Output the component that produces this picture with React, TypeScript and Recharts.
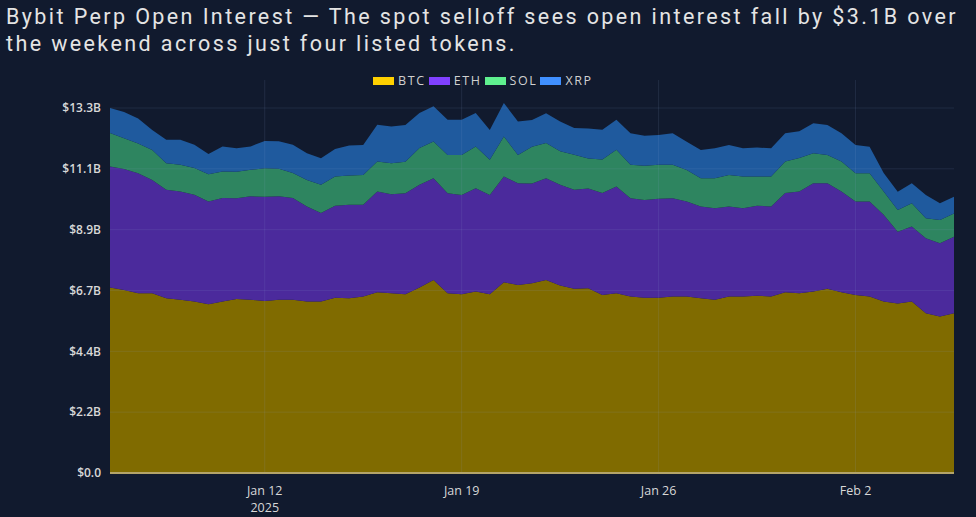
import React from 'react';
import { AreaChart, Area, XAxis, YAxis, ReferenceLine } from 'recharts';

// open interest in $B, 12h samples from Jan 6 12:00 UTC
const btc = [
  6.76, 6.67, 6.55, 6.55, 6.37, 6.31, 6.25, 6.15, 6.25, 6.34,
  6.31, 6.27, 6.31, 6.31, 6.25, 6.25, 6.39, 6.37, 6.43, 6.59,
  6.55, 6.51, 6.76, 7.03, 6.55, 6.51, 6.61, 6.51, 6.95, 6.85,
  6.91, 7.03, 6.83, 6.71, 6.73, 6.49, 6.55, 6.43, 6.39, 6.39,
  6.43, 6.43, 6.37, 6.31, 6.43, 6.43, 6.46, 6.43, 6.59, 6.55,
  6.61, 6.71, 6.59, 6.49, 6.43, 6.25, 6.18, 6.25, 5.82, 5.70,
  5.82,
];
const eth = [
  4.41, 4.41, 4.37, 4.13, 3.95, 3.95, 3.89, 3.74, 3.77, 3.67,
  3.77, 3.80, 3.77, 3.71, 3.46, 3.22, 3.35, 3.40, 3.34, 3.67,
  3.61, 3.68, 3.74, 3.71, 3.64, 3.62, 3.77, 3.62, 3.85, 3.71,
  3.64, 3.71, 3.67, 3.61, 3.64, 3.71, 3.89, 3.58, 3.56, 3.60,
  3.58, 3.46, 3.34, 3.34, 3.28, 3.22, 3.28, 3.28, 3.61, 3.71,
  3.95, 3.85, 3.67, 3.40, 3.46, 3.16, 2.61, 2.73, 2.73, 2.67,
  2.79,
];
const sol = [
  1.22, 1.12, 1.09, 1.09, 0.97, 0.97, 0.97, 1.00, 0.97, 0.97,
  0.97, 1.03, 1.01, 0.91, 0.97, 1.03, 1.06, 1.07, 1.09, 1.09,
  1.13, 1.15, 1.34, 1.34, 1.40, 1.46, 1.52, 1.28, 1.46, 1.03,
  1.34, 1.28, 1.22, 1.28, 1.09, 1.22, 1.34, 1.22, 1.25, 1.24,
  1.22, 1.15, 1.03, 1.09, 1.15, 1.15, 1.06, 1.09, 1.15, 1.22,
  1.09, 1.03, 1.09, 1.03, 1.03, 0.85, 0.79, 0.85, 0.73, 0.85,
  0.85,
];
const xrp = [
  0.91, 0.95, 0.91, 0.73, 0.85, 0.91, 0.85, 0.73, 0.91, 0.85,
  0.85, 1.00, 1.00, 1.03, 0.97, 0.97, 1.01, 1.09, 1.09, 1.34,
  1.34, 1.34, 1.28, 1.28, 1.28, 1.28, 1.22, 1.09, 1.22, 1.22,
  0.97, 1.09, 1.09, 0.97, 1.09, 1.09, 1.09, 1.15, 1.09, 1.09,
  1.15, 1.03, 1.03, 1.09, 1.09, 1.03, 1.06, 1.03, 1.03, 0.97,
  1.09, 1.09, 1.03, 1.03, 0.97, 0.67, 0.67, 0.73, 0.85, 0.61,
  0.61,
];

const START = Date.UTC(2025, 0, 6, 12);
const STEP = 12 * 3600 * 1000;
const xTicks = [Date.UTC(2025, 0, 12), Date.UTC(2025, 0, 19), Date.UTC(2025, 0, 26), Date.UTC(2025, 1, 2)];
const xTickLabels = ['Jan 12', 'Jan 19', 'Jan 26', 'Feb 2'];
const yTicks = [0, 2.2167, 4.4333, 6.65, 8.8667, 11.0833, 13.3];
const yTickLabels = ['$0.0', '$2.2B', '$4.4B', '$6.7B', '$8.9B', '$11.1B', '$13.3B'];

// legend swatch colour, and the muted fill seen on the dark background
const series = [
  { key: 'BTC', color: '#ffd000', fill: '#806b00' },
  { key: 'ETH', color: '#8040ff', fill: '#4b2a9c' },
  { key: 'SOL', color: '#5ff08f', fill: '#2e8560' },
  { key: 'XRP', color: '#4090ff', fill: '#1f5a9e' },
];

const data = btc.map((v, i) => ({
  t: START + i * STEP,
  BTC: v,
  ETH: eth[i],
  SOL: sol[i],
  XRP: xrp[i],
}));

const BG = '#111a2e';
const GRID = 'rgba(140,160,210,0.13)';

const XTick = ({ x, y, payload, index }: any) => (
  <g transform={`translate(${x},${y})`}>
    <text textAnchor="middle" y={14} fill="#d8d8d8" fontSize={12.5} fontFamily="Open Sans">
      {xTickLabels[xTicks.indexOf(payload.value)]}
    </text>
    {index === 0 && (
      <text textAnchor="middle" y={31} fill="#d8d8d8" fontSize={12.5} fontFamily="Open Sans">
        2025
      </text>
    )}
  </g>
);

const LegendRow = () => (
  <div style={{ position: 'absolute', left: 373, top: 72, display: 'flex', alignItems: 'center', fontFamily: 'Open Sans', fontSize: 12.5, color: '#d0d0d0', letterSpacing: 1.6 }}>
    {series.map(s => (
      <div key={s.key} style={{ display: 'flex', alignItems: 'center', marginRight: 3 }}>
        <div style={{ width: 21, height: 8, background: s.color, marginRight: 4 }} />
        <span>{s.key}</span>
      </div>
    ))}
  </div>
);

export default function App() {
  return (
    <div style={{ position: 'absolute', left: 0, top: 0, width: 976, height: 517, background: BG, overflow: 'hidden' }}>
      <div style={{ position: 'absolute', left: 6, top: 3, width: 968, fontFamily: 'Roboto', fontSize: 21.5, lineHeight: '27px', color: '#e4e4e4', letterSpacing: 2.4 }}>
        Bybit Perp Open Interest — The spot selloff sees open interest fall by $3.1B over the weekend across just four listed tokens.
      </div>
      <AreaChart width={976} height={517} data={data} margin={{ top: 80, right: 22, bottom: 0, left: 10 }}>
        <XAxis
          dataKey="t"
          type="number"
          scale="time"
          domain={[START, START + (btc.length - 1) * STEP]}
          ticks={xTicks}
          tick={<XTick />}
          tickLine={false}
          axisLine={false}
          height={44}
          interval={0}
        />
        <YAxis
          width={100}
          domain={[0, 14.32]}
          ticks={yTicks}
          tickFormatter={(v: number) => yTickLabels[yTicks.indexOf(v)]}
          tick={{ fill: '#d8d8d8', fontSize: 12, fontWeight: 600, fontFamily: 'Open Sans' }}
          tickLine={false}
          axisLine={false}
          tickMargin={3}
          allowDataOverflow
        />
        {series.map(s => (
          <Area
            key={s.key}
            dataKey={s.key}
            stackId="oi"
            type="linear"
            stroke="none"
            fill={s.fill}
            fillOpacity={1}
            isAnimationActive={false}
          />
        ))}
        {yTicks.slice(1).map(v => (
          <ReferenceLine key={`y${v}`} y={v} stroke={GRID} strokeWidth={1} />
        ))}
        {xTicks.map(v => (
          <ReferenceLine key={`x${v}`} x={v} stroke={GRID} strokeWidth={1} />
        ))}
        <ReferenceLine y={0} stroke="#b4a46a" strokeWidth={2} />
      </AreaChart>
      <LegendRow />
    </div>
  );
}
